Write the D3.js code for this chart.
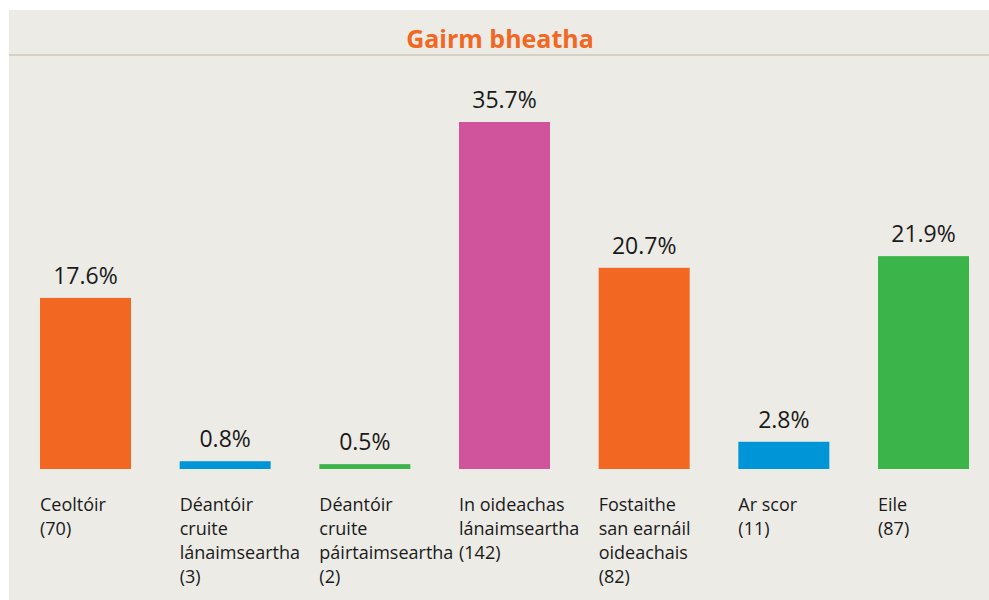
<!DOCTYPE html>
<html>
<head>
<meta charset="utf-8">
<script src="https://cdn.jsdelivr.net/npm/d3@7"></script>
<style>
  body { margin: 0; background: #ffffff; }
  text { font-family: "Open Sans", "Noto Sans", sans-serif; }
</style>
</head>
<body>
<div id="plot"></div>
<script>
// Chart data
var categories = ["Ceoltóir", "Déantóir cruite lánaimseartha", "Déantóir cruite páirtaimseartha",
  "In oideachas lánaimseartha", "Fostaithe san earnáil oideachais", "Ar scor", "Eile"];
var labelLines = [
  ["Ceoltóir", "(70)"],
  ["Déantóir", "cruite", "lánaimseartha", "(3)"],
  ["Déantóir", "cruite", "páirtaimseartha", "(2)"],
  ["In oideachas", "lánaimseartha", "(142)"],
  ["Fostaithe", "san earnáil", "oideachais", "(82)"],
  ["Ar scor", "(11)"],
  ["Eile", "(87)"]
];
var percents = [17.6, 0.8, 0.5, 35.7, 20.7, 2.8, 21.9];
var barColors = ["#f26722", "#0095d6", "#3bb44a", "#cf549c", "#f26722", "#0095d6", "#3bb44a"];

function init() {
  var w = 989;
  var h = 600;

  var svg = d3.select("#plot")
    .append("svg")
    .attr("width", w)
    .attr("height", h);

  // Panel background
  svg.append("rect")
    .attr("x", 9)
    .attr("y", 10)
    .attr("width", w - 9)
    .attr("height", h - 10)
    .attr("fill", "#ecebe6");

  // Title divider
  svg.append("rect")
    .attr("x", 9)
    .attr("y", 54)
    .attr("width", w - 9)
    .attr("height", 2)
    .attr("fill", "#d6cfc3");

  svg.append("text")
    .attr("x", 500)
    .attr("y", 48)
    .attr("text-anchor", "middle")
    .attr("font-size", 25)
    .attr("font-weight", "bold")
    .attr("fill", "#f26722")
    .text("Gairm bheatha");

  // Scales
  var xScale = d3.scaleBand()
    .domain(categories)
    .range([40, 969])
    .paddingInner(0.3486)
    .paddingOuter(0);

  var yScale = d3.scaleLinear()
    .domain([0, 35.7])
    .range([469, 122]);

  // Bars
  svg.selectAll("rect.bar")
    .data(percents)
    .enter()
    .append("rect")
    .attr("class", "bar")
    .attr("x", function(d, i) { return xScale(categories[i]); })
    .attr("y", function(d) { return yScale(d); })
    .attr("width", xScale.bandwidth())
    .attr("height", function(d) { return yScale(0) - yScale(d); })
    .attr("fill", function(d, i) { return barColors[i]; });

  // Value labels
  svg.selectAll("text.value")
    .data(percents)
    .enter()
    .append("text")
    .attr("class", "value")
    .attr("x", function(d, i) { return xScale(categories[i]) + xScale.bandwidth() / 2; })
    .attr("y", function(d) { return yScale(d) - 14; })
    .attr("text-anchor", "middle")
    .attr("font-size", 23)
    .attr("fill", "#1a1a1a")
    .text(function(d) { return d.toFixed(1) + "%"; });

  // Category labels
  var labels = svg.selectAll("text.cat")
    .data(labelLines)
    .enter()
    .append("text")
    .attr("class", "cat")
    .attr("font-size", 18)
    .attr("fill", "#1a1a1a");

  labels.each(function(lines, i) {
    var t = d3.select(this);
    lines.forEach(function(line, j) {
      t.append("tspan")
        .attr("x", xScale(categories[i]))
        .attr("y", 511 + j * 24)
        .text(line);
    });
  });
}

window.onload = init;
</script>
</body>
</html>
